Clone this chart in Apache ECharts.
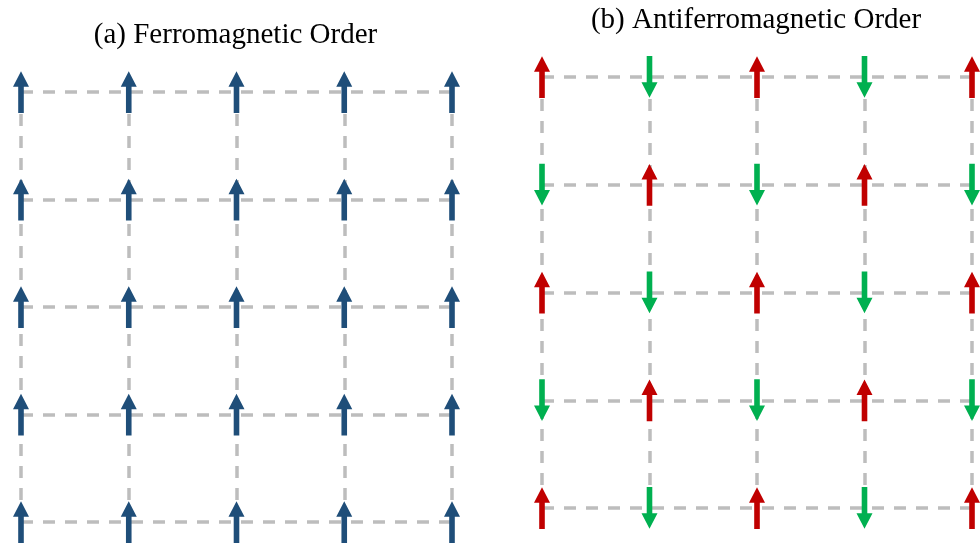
<!DOCTYPE html>
<html>
<head>
<meta charset="utf-8">
<script src="https://cdn.jsdelivr.net/npm/echarts@6/dist/echarts.min.js"></script>
<style>
html,body{margin:0;padding:0;background:#fff;}
#chart{width:980px;height:544px;}
</style>
</head>
<body>
<div id="chart"></div>
<script>
// ---- data ----
const columns = [0, 1, 2, 3, 4];
const rowsIdx = [0, 1, 2, 3, 4]; // 0 = top row
const panelTitles = ['(a) Ferromagnetic Order', '(b) Antiferromagnetic Order'];
// spins per row, top to bottom (+1 = up, -1 = down)
const ferroRow1 = [1, 1, 1, 1, 1];
const ferroRow2 = [1, 1, 1, 1, 1];
const ferroRow3 = [1, 1, 1, 1, 1];
const ferroRow4 = [1, 1, 1, 1, 1];
const ferroRow5 = [1, 1, 1, 1, 1];
const afmRow1 = [1, -1, 1, -1, 1];
const afmRow2 = [-1, 1, -1, 1, -1];
const afmRow3 = [1, -1, 1, -1, 1];
const afmRow4 = [-1, 1, -1, 1, -1];
const afmRow5 = [1, -1, 1, -1, 1];

const ferroRows = [ferroRow1, ferroRow2, ferroRow3, ferroRow4, ferroRow5];
const afmRows = [afmRow1, afmRow2, afmRow3, afmRow4, afmRow5];

function toData(rows) {
  const out = [];
  rowsIdx.forEach(r => columns.forEach(c => {
    out.push([c, rowsIdx.length - 1 - r, rows[r][c]]);
  }));
  return out;
}

const BLUE = '#1f4e79', RED = '#c00000', GREEN = '#00b050', GRAY = '#bdbdbd';

function makeRender(colorFn) {
  return function (params, api) {
    const p = api.coord([api.value(0), api.value(1)]);
    const s = api.value(2);
    const x = p[0];
    const tipY = p[1] - s * 20.8;
    const tailY = p[1] + s * 21;
    const baseY = tipY + s * 15.5;
    const hw = 8, sw = 2.8;
    return {
      type: 'polygon',
      shape: { points: [[x - sw, tailY], [x - sw, baseY], [x - hw, baseY], [x, tipY], [x + hw, baseY], [x + sw, baseY], [x + sw, tailY]] },
      style: { fill: colorFn(s) }
    };
  };
}

function axis(idx) {
  return {
    type: 'value', gridIndex: idx, min: 0, max: 4, interval: 1,
    axisLine: { show: false }, axisTick: { show: false }, axisLabel: { show: false },
    splitLine: { show: true, lineStyle: { color: GRAY, width: 3.5, type: [12, 10] } }
  };
}

const chart = echarts.init(document.getElementById('chart'), null, { renderer: 'canvas' });
chart.setOption({
  animation: false,
  backgroundColor: '#fff',
  grid: [
    { left: 21, top: 92, width: 431, height: 430 },
    { left: 542, top: 77, width: 430, height: 431 }
  ],
  xAxis: [axis(0), axis(1)],
  yAxis: [axis(0), axis(1)],
  graphic: [
    { type: 'text', x: 235.5, y: 35.5, style: { text: panelTitles[0], font: '29px "Liberation Serif", "Times New Roman", serif', fill: '#000', textAlign: 'center', textVerticalAlign: 'middle' } },
    { type: 'text', x: 756, y: 20.5, style: { text: panelTitles[1], font: '29px "Liberation Serif", "Times New Roman", serif', fill: '#000', textAlign: 'center', textVerticalAlign: 'middle' } }
  ],
  series: [
    { type: 'custom', xAxisIndex: 0, yAxisIndex: 0, data: toData(ferroRows), renderItem: makeRender(() => BLUE), z: 5 },
    { type: 'custom', xAxisIndex: 1, yAxisIndex: 1, data: toData(afmRows), renderItem: makeRender(s => s > 0 ? RED : GREEN), z: 5 }
  ]
});
</script>
</body>
</html>
